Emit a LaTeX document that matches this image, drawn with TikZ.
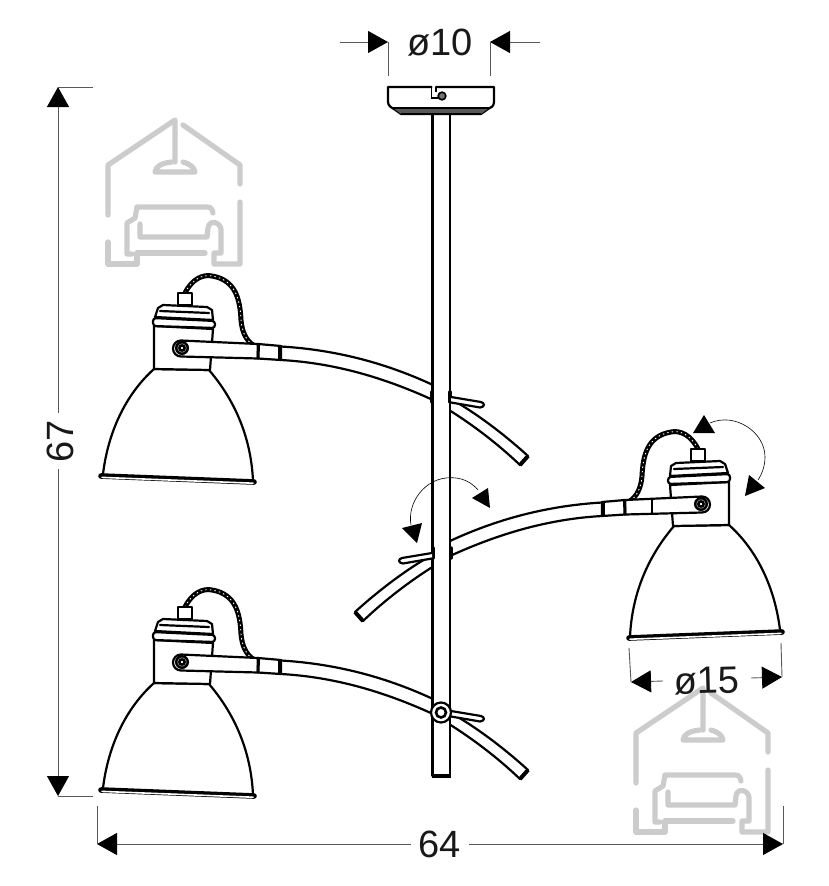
\documentclass[tikz,border=0pt]{standalone}
\usepackage{fontspec}
\setmainfont{Liberation Sans}
\usetikzlibrary{arrows.meta}

\tikzset{
    lampline/.style={black,line width=2.2pt,line join=round,line cap=round},
    marklogo/.style={draw=black!20,line width=5.2pt,line join=round,line cap=round},
    dimline/.style={black!65,line width=0.9pt},
    dimarrow/.style={dimline,-{Triangle[length=20pt,width=22pt,color=black,fill=black]}},
    turnline/.style={black,line width=0.6pt},
    turntip/.style={fill=black,draw=none},
    dimtext/.style={font=\fontsize{38}{38}\selectfont,inner sep=0pt,fill=white,text=black!90}
}

% lamp with its arm, as the top left one stands
\newcommand{\lampunit}{
    \draw[black,line width=5pt,line cap=round] (185,293) .. controls (192,279) and (203,274) .. (212,276) .. controls (236,280) and (240,300) .. (241,320) .. controls (242,332) and (246,340) .. (253,345);
    \draw[white,line width=0.9pt,dash pattern=on 1.4pt off 3.2pt] (185,293) .. controls (192,279) and (203,274) .. (212,276) .. controls (236,280) and (240,300) .. (241,320) .. controls (242,332) and (246,340) .. (253,345);
    \draw[lampline,fill=white] (103,474) .. controls (108,433) and (125,395) .. (154,369) -- (209,370) .. controls (233,398) and (251,435) .. (253,481);
    \draw[black,line width=5.6pt,line cap=round] (101,476) -- (254,482);
    \draw[white,line width=1.6pt,line cap=round] (102,477.4) -- (253,483.2);
    \draw[lampline,fill=white] (154,369) -- (154,326) -- (213,329) -- (210,370) -- cycle;
    \draw[lampline,fill=white] (155,317) -- (158,308) -- (163,305) -- (207,307) -- (212,310) -- (213,320) -- cycle;
    \draw[lampline] (160,311) -- (209,313);
    \draw[lampline,fill=white,rounded corners=3pt] (153,318) -- (215,321) -- (215,328) -- (153,326) -- cycle;
    \draw[lampline,fill=white] (178,293) rectangle (192,305);
    \draw[lampline,fill=white] (258,344) -- (181,340.5) arc[start angle=-90,end angle=-270,radius=8] -- (258,358.5) -- cycle;
    \draw[lampline,fill=white] (258,344) -- (281,346) -- (281,360) -- (258,358.5) -- cycle;
    \draw[black,line width=3pt] (258.5,343.5) -- (258,359);
    \draw[black,line width=4.5pt] (280,345.5) -- (280,360);
    \draw[black,line width=2.4pt,fill=black!40] (182,348) circle[radius=5.8];
    \draw[black,line width=2.4pt,fill=white] (182,348) circle[radius=2.6];
    \draw[lampline] (281,346.5) .. controls (340,350) and (390,365) .. (433,385);
    \draw[lampline] (281,360) .. controls (335,363) and (385,378) .. (433,400);
    \draw[lampline] (449,398) .. controls (475,412) and (505,435) .. (528,456);
    \draw[lampline] (449,410) .. controls (473,425) and (498,444) .. (520,465);
    \draw[black,line width=4pt] (528,456) -- (520,465);
}
% thumb screw on the arm
\newcommand{\screwhandle}{
    \draw[lampline,fill=white] (451,397) -- (481,402) .. controls (485,403) and (485,407) .. (480,407.5) -- (451,402.5);
}
\newcommand{\polebump}{
    \draw[black,line width=3.4pt,line cap=round] (432,392) -- (432,402);
    \draw[black,line width=3.4pt,line cap=round] (450,392) -- (450,402);
}
% grey house mark
\newcommand{\housemark}{
    \draw[marklogo] (108,215) -- (108,165) -- (175,120) -- (175,162);
    \draw[marklogo] (183,125) -- (240,165) -- (240,184);
    \draw[marklogo] (172,162) .. controls (162,163) and (156,166) .. (155,172) -- (195,172) .. controls (194,167) and (190,164) .. (183,162);
    \draw[marklogo] (240,202) -- (240,264) -- (214,264) -- (214,253) -- (221,253) -- (221,230) .. controls (221,222) and (209,219) .. (208,228) -- (207,237) -- (140,237) -- (140,224);
    \draw[marklogo] (213,213) .. controls (212,209) and (211,207) .. (207,207) -- (137,207) -- (135,218) -- (127,223) -- (127,254) -- (132,254);
    \draw[marklogo] (205,253) -- (137,253) -- (137,264) -- (108,264) -- (108,242);
}

\begin{document}
\begin{tikzpicture}[x=1pt,y=-1pt]
    \useasboundingbox (0,0) rectangle (828,886);
    \fill[white] (0,0) rectangle (828,886);

    \housemark
    \begin{scope}[shift={(528,568)}]
        \housemark
    \end{scope}

    \lampunit
    \begin{scope}[shift={(0,314)}]
        \lampunit
    \end{scope}
    \begin{scope}[shift={(883,156)},xscale=-1]
        \lampunit
        \draw[black,line width=2.4pt] (231,343) -- (231,357);
    \end{scope}

    % pole and ceiling plate
    \draw[lampline,fill=white] (432.5,112) -- (432.5,776) -- (450,776) -- (450,112);
    \draw[black,line width=3.5pt] (431.5,776) -- (451,776);
    \draw[lampline,fill=white] (388,87) -- (388,102) .. controls (388,106) and (392,108) .. (394,109) -- (401,114) -- (481,114) -- (488,109) .. controls (491,108) and (494,106) .. (494,102) -- (494,87) -- (436,87) (431.5,87) -- (388,87);
    \fill[black!65] (393,108) -- (489,108) -- (481,114) -- (401,114) -- cycle;
    \draw[black,line width=1.7pt] (393,108) -- (489,108);
    \draw[black,line width=2.2pt] (401,114) -- (481,114);
    \draw[black,line width=1.7pt] (431.5,87) -- (431.5,98) -- (438,98);
    \draw[black,line width=1.7pt] (436,87) -- (436,92);
    \draw[black,line width=1.7pt,fill=black!55] (442,96) circle[radius=3.8];

    \polebump
    \screwhandle
    \begin{scope}[shift={(883,156)},xscale=-1]
        \polebump
        \screwhandle
    \end{scope}
    \begin{scope}[shift={(0,314)}]
        \screwhandle
    \end{scope}
    \draw[black,line width=2.2pt,fill=white] (441,712.5) circle[radius=10];
    \draw[black,line width=2.6pt,fill=white] (441,712.5) circle[radius=5];

    % turning arrows
    \draw[turnline] (478,490) .. controls (468,478) and (455,477) .. (446,478) .. controls (425,480) and (407,502) .. (411,525);
    \fill[turntip] (490,508) -- (472,498) -- (488,488) -- cycle;
    \fill[turntip] (417,543) -- (402,528) -- (422,523) -- cycle;
    \draw[turnline] (710,423) .. controls (735,412) and (765,432) .. (765,457) .. controls (765,466) and (762,474) .. (758,480);
    \fill[turntip] (704,415) -- (693,433) -- (715,433) -- cycle;
    \fill[turntip] (745,496) -- (749,475) -- (765,488) -- cycle;

    % size lines
    \coordinate (topleftA) at (340,42);
    \coordinate (topleftB) at (388,42);
    \coordinate (toprightA) at (540,42);
    \coordinate (toprightB) at (490,42);
    \node[dimtext,fill=none] (platesize) at (440,43) {ø10};
    \draw[dimarrow] (topleftA) -- (topleftB);
    \draw[dimarrow] (toprightA) -- (toprightB);
    \draw[dimline] (topleftB) -- (388,76);
    \draw[dimline] (toprightB) -- (490,76);

    \node[dimtext,rotate=90] (heightsize) at (60,441) {67};
    \coordinate (heighttop) at (58,87);
    \coordinate (heightbottom) at (58,796);
    \draw[dimarrow] (heightsize.east -| heighttop) ++(0,-7) -- (heighttop);
    \draw[dimarrow] (heightsize.west -| heightbottom) ++(0,7) -- (heightbottom);
    \draw[dimline] (heighttop) -- (93,87);
    \draw[dimline] (heightbottom) -- (93,796);

    \node[dimtext] (widthsize) at (440,844) {64};
    \coordinate (widthleft) at (97,844);
    \coordinate (widthright) at (783,844);
    \draw[dimarrow] (widthsize.west) ++(-8,0) -- (widthleft);
    \draw[dimarrow] (widthsize.east) ++(8,0) -- (widthright);
    \draw[dimline] (widthleft) -- (97,806);
    \draw[dimline] (widthright) -- (783,806);

    \node[dimtext,fill=none,rotate=1.5] (shadesize) at (707,681) {ø15};
    \coordinate (shadeleft) at (631,682);
    \coordinate (shaderight) at (782,677);
    \draw[dimarrow] (663,681) -- (shadeleft);
    \draw[dimarrow] (751,678) -- (shaderight);
    \draw[dimline] (shadeleft) -- (629,648);
    \draw[dimline] (shaderight) -- (781,643);
\end{tikzpicture}
\end{document}
